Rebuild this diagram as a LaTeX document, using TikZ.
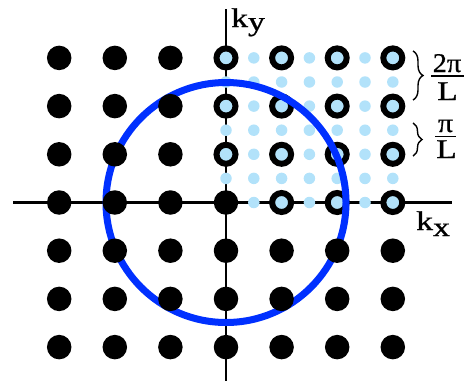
\documentclass[tikz,border=0pt]{standalone}
\usepackage{graphicx}
\usepackage{fontspec}
\setmainfont{Liberation Serif}
\newfontfamily\heavyserif{Liberation Serif}[FakeBold=0.8]
\usetikzlibrary{decorations.pathreplacing}
\definecolor{ringblue}{RGB}{0,48,255}
\definecolor{lightdot}{RGB}{178,226,250}
\newcommand\labfont{\heavyserif\fontsize{27pt}{27pt}\selectfont}
\newcommand\fracfont{\heavyserif\fontsize{27pt}{27pt}\selectfont}
\newcommand\wide[2]{\scalebox{#1}[1]{#2}}
\begin{document}
\begin{tikzpicture}[x=1pt,y=-1pt,
  blackdot/.style={circle,fill=black,minimum size=24.5pt,inner sep=0pt},
  ringdot/.style={circle,draw=black,line width=6pt,fill=lightdot,minimum size=19pt,inner sep=0pt},
  halfdot/.style={circle,fill=lightdot,minimum size=11.5pt,inner sep=0pt},
  axis/.style={line width=2.2pt},
  fermi/.style={draw=ringblue,line width=7pt},
  lab/.style={font=\labfont,inner sep=0pt,anchor=base west},
  fraclab/.style={font=\fracfont,inner sep=0pt,anchor=base},
  bracestyle/.style={decorate,line width=1.4pt},
  fracbar/.style={line width=1.6pt}]
\useasboundingbox (0,0) rectangle (471,381);
% axes
\coordinate (O) at (226,202.5);
\coordinate (xl) at (13,202.5);
\coordinate (xr) at (452,202.5);
\coordinate (yt) at (226,9);
\coordinate (yb) at (226,381);
\draw[axis] (xl) -- (xr);
\draw[axis] (yt) -- (yb);
% light blue half-grid dots
\foreach \a in {0,...,6}{
  \foreach \b in {0,...,6}{
    \pgfmathtruncatemacro\odd{(isodd(\a)||isodd(\b))}
    \ifnum\odd=1
      \node[halfdot] (h\a\b) at ({226+27.8*\a},{202.5-24.1*\b}) {};
    \fi
  }
}
% rings in first quadrant
\foreach \i in {0,...,3}{
  \foreach \j in {0,...,3}{
    \ifnum\numexpr\i+\j\relax>0
      \node[ringdot] (r\i\j) at ({226+55.6*\j},{202.5-48.2*\i}) {};
    \fi
  }
}
% circle
\draw[fermi] (O) circle[radius=120pt];
% black dots
\foreach \i in {-3,...,3}{
  \foreach \j in {-3,...,3}{
    \pgfmathtruncatemacro\q{((\i>=0)&&(\j>=0)&&(\i+\j>0))}
    \pgfmathtruncatemacro\ii{\i+3}
    \pgfmathtruncatemacro\jj{\j+3}
    \ifnum\q=0
      \node[blackdot] (b\ii\jj) at ({226+55.6*\j},{202.5-48.2*\i}) {};
    \fi
  }
}
% axis labels
\node[lab] (ky) at (231,27) {\wide{1.25}{k\raisebox{-3.5pt}{y}}};
\node[lab] (kx) at (416,230) {\wide{1.25}{k\raisebox{-6pt}{x}}};
% braces
\coordinate (b1t) at (413,51);
\coordinate (b1b) at (413,100);
\draw[bracestyle,decoration={brace,amplitude=10pt}] (b1t) -- (b1b);
\coordinate (b2t) at (413,123);
\coordinate (b2b) at (413,156);
\draw[bracestyle,decoration={brace,amplitude=9pt}] (b2t) -- (b2b);
% fractions
\node[fraclab] (n1) at (447,72) {\wide{1.05}{2π}};
\coordinate (f1l) at (431,76);
\coordinate (f1r) at (464,76);
\draw[fracbar] (f1l) -- (f1r);
\node[fraclab] (d1) at (447.5,100) {\wide{1.25}{L}};
\node[fraclab] (n2) at (445.5,132) {\wide{1.1}{π}};
\coordinate (f2l) at (435,136.5);
\coordinate (f2r) at (456,136.5);
\draw[fracbar] (f2l) -- (f2r);
\node[fraclab] (d2) at (446.5,158) {\wide{1.25}{L}};
\end{tikzpicture}
\end{document}
